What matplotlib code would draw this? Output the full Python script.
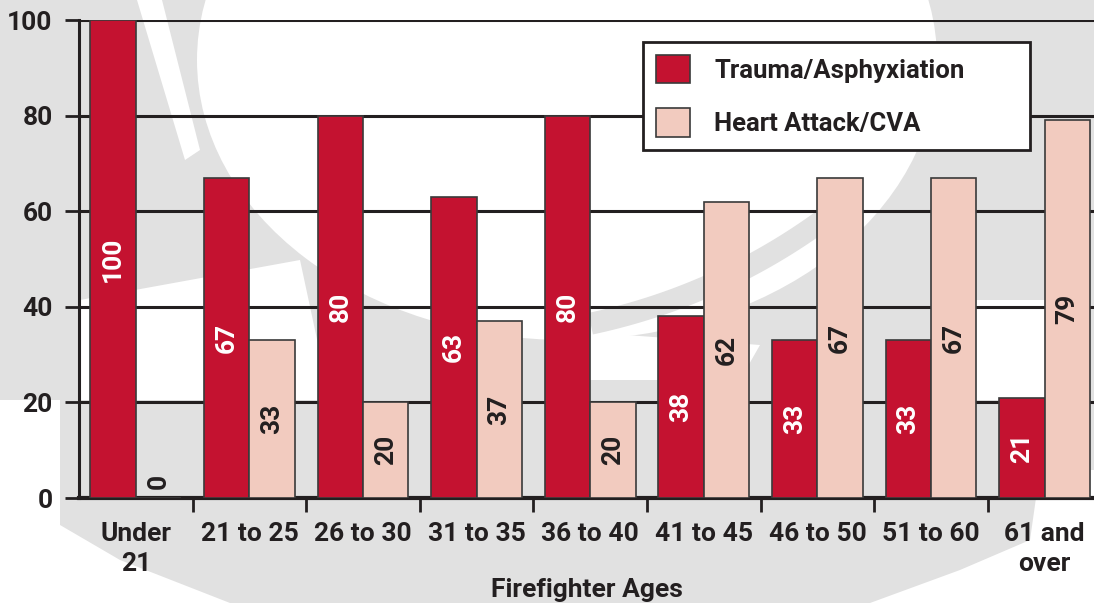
import numpy as np
import matplotlib
matplotlib.use("Agg")
import matplotlib.pyplot as plt
from matplotlib.patches import Polygon, Ellipse

# ---------------- data ----------------
categories = ["Under\n21", "21 to 25", "26 to 30", "31 to 35", "36 to 40",
              "41 to 45", "46 to 50", "51 to 60", "61 and\nover"]
trauma = [100, 67, 80, 63, 80, 38, 33, 33, 21]
heart = [0, 33, 20, 37, 20, 62, 67, 67, 79]
series_names = ["Trauma/Asphyxiation", "Heart Attack/CVA"]
yticks = [0, 20, 40, 60, 80, 100]
xlabel = "Firefighter Ages"

RED = "#c41230"
PINK = "#f2cbbf"
DARK = "#231f20"
GREY_BG = "#e1e1e1"

plt.rcParams['font.family'] = ['Roboto', 'DejaVu Sans']
plt.rcParams['font.weight'] = 'bold'

W, H = 1094, 603
fig = plt.figure(figsize=(W / 100, H / 100), dpi=100)
fig.patch.set_facecolor(GREY_BG)


def px(x, y):
    return (x / W, 1 - y / H)


# ---------------- watermark (decorative background) ----------------
def poly(points, color="white"):
    fig.patches.append(Polygon([px(*p) for p in points], closed=True,
                               transform=fig.transFigure, facecolor=color,
                               edgecolor="none", zorder=-10))


def ellipse(cx, cy, w, h, color="white"):
    fig.patches.append(Ellipse(px(cx, cy), w / W, h / H, transform=fig.transFigure,
                               facecolor=color, edgecolor="none", zorder=-10))


ellipse(567, 60, 740, 560)
poly([(137, 0), (162, 0), (200, 150), (185, 160)])
poly([(80, 300), (300, 260), (330, 400), (80, 400)])
poly([(560, 330), (760, 345), (740, 380), (560, 380)])
poly([(975, 300), (1045, 300), (1045, 400), (975, 400)])
poly([(0, 400), (60, 400), (60, 525), (120, 560), (230, 603), (0, 603)])
poly([(1040, 470), (1094, 470), (1094, 603), (870, 603), (960, 570), (1030, 540)])
cx, cy, r = 464, -272, 609
th = np.linspace(np.deg2rad(52), np.deg2rad(78), 60)
outer = [(cx + (r + 11) * np.cos(t), cy + (r + 11) * np.sin(t)) for t in th]
inner = [(cx + (r - 11) * np.cos(t), cy + (r - 11) * np.sin(t)) for t in th[::-1]]
poly(outer + inner, GREY_BG)

# ---------------- axes ----------------
ax = fig.add_axes([79 / W, 1 - 498 / H, (W - 79) / W, (498 - 20) / H])
ax.set_facecolor("none")

x = np.arange(len(categories))
bw = 0.4
ax.bar(x - bw / 2, trauma, bw, color=RED, edgecolor="#3a3a3a", linewidth=1.2,
       label=series_names[0], zorder=3)
ax.bar(x + bw / 2, heart, bw, color=PINK, edgecolor="#3a3a3a", linewidth=1.2,
       label=series_names[1], zorder=3)

for xi, v in zip(x - bw / 2, trauma):
    ax.text(xi, max(v / 2, 3.4), str(v), rotation=90, ha="center", va="center",
            color="white", fontsize=19, fontweight="bold", zorder=5)
for xi, v in zip(x + bw / 2, heart):
    ax.text(xi, max(v / 2, 3.4), str(v), rotation=90, ha="center", va="center",
            color=DARK, fontsize=19, fontweight="bold", zorder=5)

ax.set_xlim(-0.5, 8.435)
ax.set_ylim(0, 100)

ax.set_yticks(yticks)
ax.set_yticklabels([str(t) for t in yticks], fontsize=19, fontweight="bold", color=DARK)
ax.tick_params(axis="y", length=10, width=2, color=DARK, pad=9)

ax.set_xticks(np.arange(len(categories) - 1) + 0.5)
ax.set_xticklabels([])
ax.set_xticks(x, minor=True)
ax.set_xticklabels(categories, minor=True, fontsize=19, fontweight="bold", color=DARK,
                   linespacing=1.32)
ax.tick_params(axis="x", which="major", length=10, width=2, color=DARK, direction="out")
ax.tick_params(axis="x", which="minor", length=0, pad=17)

ax.set_xlabel(xlabel, fontsize=19, fontweight="bold", color=DARK, labelpad=2)

ax.grid(axis="y", color=DARK, linewidth=2.2, zorder=0)
ax.set_axisbelow(True)
for s in ["top", "right"]:
    ax.spines[s].set_visible(False)
ax.spines["left"].set_color(DARK)
ax.spines["left"].set_linewidth(2.2)
ax.spines["bottom"].set_color(DARK)
ax.spines["bottom"].set_linewidth(3)
ax.spines["left"].set_bounds(0, 100)

lx0, ly0 = px(643, 150)
lx1, ly1 = px(1030, 42)
leg = ax.legend(loc="upper left", bbox_to_anchor=(lx0, ly0, lx1 - lx0, ly1 - ly0),
                bbox_transform=fig.transFigure, mode="expand",
                borderaxespad=0, prop={"weight": "bold", "size": 18.5},
                handlelength=1.32, handleheight=1.32, handletextpad=0.95,
                labelspacing=0.98, borderpad=0.5, fancybox=False, framealpha=1,
                edgecolor=DARK)
leg.get_frame().set_linewidth(2)
for t in leg.get_texts():
    t.set_color(DARK)

fig.savefig("out.png", dpi=100, facecolor=fig.get_facecolor())
